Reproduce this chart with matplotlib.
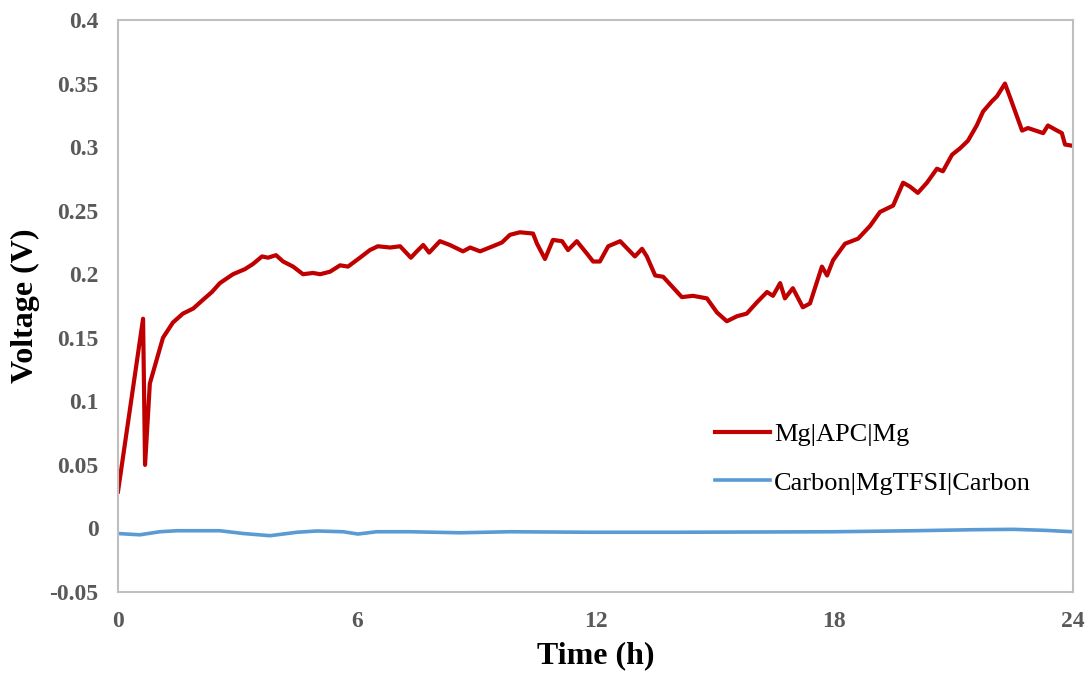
import matplotlib.pyplot as plt
import numpy as np

# data
apc_t = [0.0, 0.63, 0.68, 0.8, 1.13, 1.38, 1.63, 1.89, 2.14, 2.36, 2.56, 2.89, 3.19,
         3.39, 3.62, 3.77, 3.97, 4.15, 4.4, 4.65, 4.9, 5.08, 5.33, 5.58, 5.78, 6.08,
         6.33, 6.53, 6.84, 7.09, 7.21, 7.36, 7.51, 7.67, 7.82, 8.09, 8.34, 8.67, 8.85,
         9.1, 9.42, 9.65, 9.85, 10.1, 10.43, 10.53, 10.73, 10.93, 11.16, 11.31, 11.53,
         11.79, 11.94, 12.11, 12.32, 12.62, 12.99, 13.17, 13.29, 13.5, 13.7, 14.17,
         14.45, 14.8, 15.05, 15.3, 15.56, 15.8, 16.06, 16.31, 16.46, 16.64, 16.76,
         16.96, 17.21, 17.39, 17.69, 17.82, 17.97, 18.27, 18.6, 18.9, 19.15, 19.48,
         19.73, 19.9, 20.1, 20.33, 20.58, 20.73, 20.96, 21.16, 21.36, 21.58, 21.74,
         21.96, 22.09, 22.29, 22.42, 22.72, 22.87, 23.25, 23.37, 23.6, 23.72, 23.8, 24.0]
apc_v = [0.029, 0.165, 0.050, 0.114, 0.150, 0.162, 0.169, 0.173, 0.180, 0.186, 0.193,
         0.200, 0.204, 0.208, 0.214, 0.213, 0.215, 0.210, 0.206, 0.200, 0.201, 0.200,
         0.202, 0.207, 0.206, 0.213, 0.219, 0.222, 0.221, 0.222, 0.218, 0.213, 0.218,
         0.223, 0.217, 0.226, 0.223, 0.218, 0.221, 0.218, 0.222, 0.225, 0.231, 0.233,
         0.232, 0.224, 0.212, 0.227, 0.226, 0.219, 0.226, 0.216, 0.210, 0.210, 0.222,
         0.226, 0.214, 0.220, 0.214, 0.199, 0.198, 0.182, 0.183, 0.181, 0.170, 0.163,
         0.167, 0.169, 0.178, 0.186, 0.183, 0.193, 0.181, 0.189, 0.174, 0.177, 0.206,
         0.199, 0.211, 0.224, 0.228, 0.238, 0.249, 0.254, 0.272, 0.269, 0.264, 0.272,
         0.283, 0.281, 0.294, 0.299, 0.305, 0.317, 0.328, 0.336, 0.340, 0.350, 0.339,
         0.313, 0.315, 0.311, 0.317, 0.313, 0.311, 0.302, 0.301]

tfsi_t = [0.0, 0.55, 1.05, 1.48, 2.56, 3.15, 3.82, 4.5, 5.0, 5.66, 6.03, 6.5, 7.34,
          8.6, 9.85, 11.86, 14.0, 16.0, 18.0, 20.0, 21.5, 22.5, 23.3, 24.0]
tfsi_v = [-0.004, -0.005, -0.0026, -0.0018, -0.0018, -0.004, -0.0057, -0.003, -0.002,
          -0.0026, -0.0044, -0.0026, -0.0026, -0.0034, -0.0026, -0.003, -0.003, -0.0028,
          -0.0026, -0.0018, -0.001, -0.0007, -0.0015, -0.0026]

xticks = [0, 6, 12, 18, 24]
yticks = [-0.05, 0, 0.05, 0.1, 0.15, 0.2, 0.25, 0.3, 0.35, 0.4]
ytick_labels = ['-0.05', '0', '0.05', '0.1', '0.15', '0.2', '0.25', '0.3', '0.35', '0.4']

plt.rcParams['font.family'] = ['Liberation Serif', 'DejaVu Serif']

fig = plt.figure(figsize=(10.88, 6.74), dpi=100)
ax = fig.add_axes([118/1088, 1 - 592/674, (1073-118)/1088, (592-20)/674])

ax.plot(apc_t, apc_v, color='#C00000', lw=3.0, label='Mg|APC|Mg')
ax.plot(tfsi_t, tfsi_v, color='#5B9BD5', lw=2.6, label='Carbon|MgTFSI|Carbon')

ax.set_xlim(0, 24)
ax.set_ylim(-0.05, 0.4)
ax.set_xticks(xticks)
ax.set_xticklabels([str(x) for x in xticks])
ax.set_yticks(yticks)
ax.set_yticklabels(ytick_labels)
ax.tick_params(length=0, labelsize=17, labelcolor='#595959')
ax.tick_params(axis='y', pad=14)
ax.tick_params(axis='x', pad=14)
for lab in ax.get_xticklabels() + ax.get_yticklabels():
    lab.set_fontweight('bold')

for sp in ax.spines.values():
    sp.set_color('#BFBFBF')
    sp.set_linewidth(1.5)

ax.set_xlabel('Time (h)', fontsize=23, fontweight='bold', labelpad=6)
ax.set_ylabel('Voltage (V)', fontsize=23, fontweight='bold', labelpad=7)

ax.legend(loc='upper left', bbox_to_anchor=(0.625, 0.296), frameon=False,
          fontsize=19, handlelength=2.1, handletextpad=0.15, labelspacing=0.95,
          borderpad=0, borderaxespad=0)

fig.savefig('out.png', dpi=100)
